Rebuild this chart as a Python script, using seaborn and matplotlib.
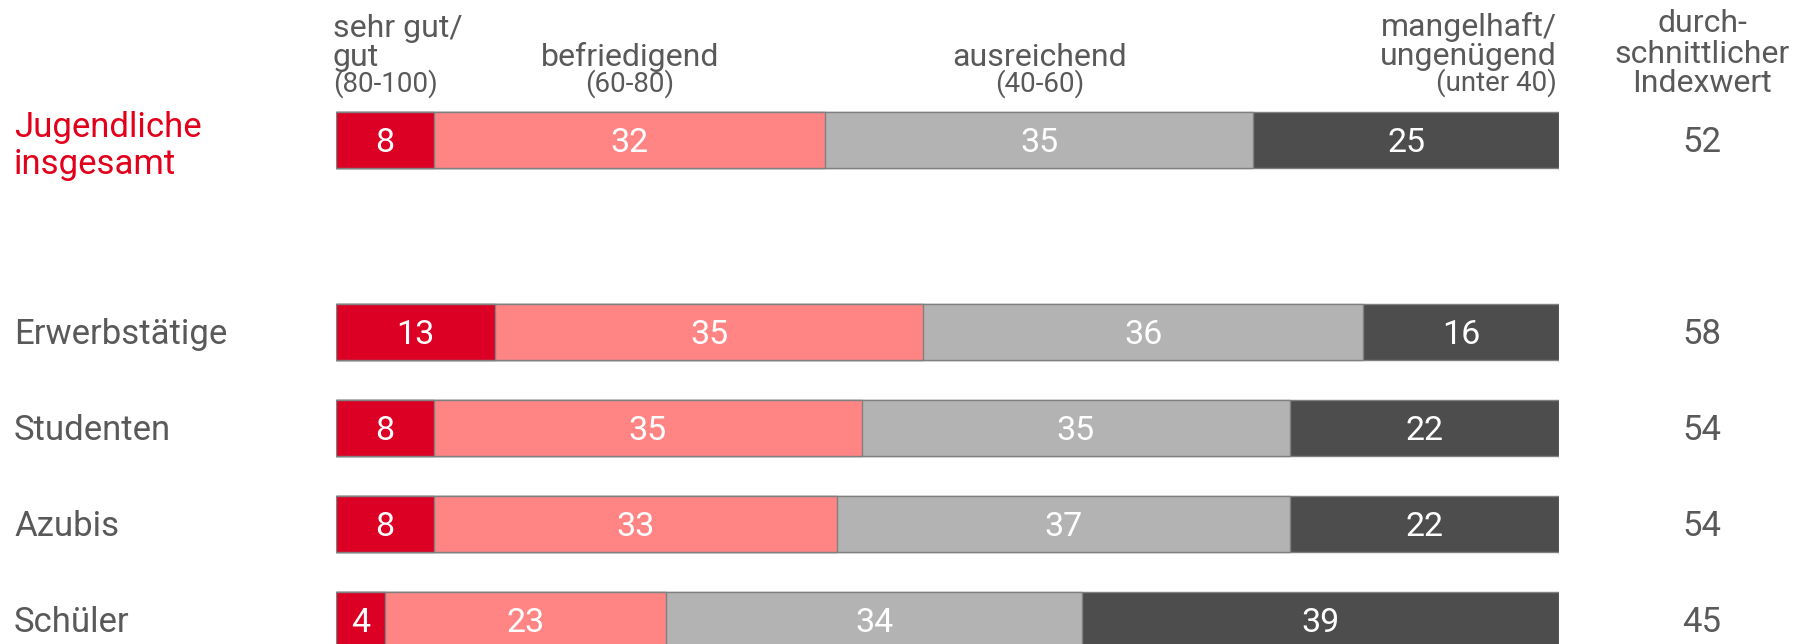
import matplotlib
matplotlib.use("Agg")
import matplotlib.pyplot as plt
import matplotlib.transforms as mtransforms
import seaborn as sns
import pandas as pd

# data (percent per group)
categories = ["Jugendliche insgesamt", "Erwerbstätige", "Studenten", "Azubis", "Schüler"]
row_labels = [["Jugendliche", "insgesamt"], ["Erwerbstätige"], ["Studenten"], ["Azubis"], ["Schüler"]]
sehr_gut = [8, 13, 8, 8, 4]
befriedigend = [32, 35, 35, 33, 23]
ausreichend = [35, 36, 35, 37, 34]
mangelhaft = [25, 16, 22, 22, 39]
indexwert = [52, 58, 54, 54, 45]

# empty slot between total and the subgroups
order = ["Jugendliche insgesamt", " ", "Erwerbstätige", "Studenten", "Azubis", "Schüler"]

colors = ["#DC0024", "#FF8585", "#B3B3B3", "#4D4D4D"]
text_grey = "#595959"
text_red = "#E2001A"

sns.set_style("white")
plt.rcParams["font.family"] = ["Roboto", "DejaVu Sans"]

df = pd.DataFrame({
    "group": categories,
    "s1": sehr_gut,
    "s2": befriedigend,
    "s3": ausreichend,
    "s4": mangelhaft,
})
segs = ["s1", "s2", "s3", "s4"]
cum = df[segs].cumsum(axis=1)

fig = plt.figure(figsize=(18.09, 6.44), dpi=100)
ax = fig.add_axes([336 / 1809, 0, (1559 - 336) / 1809, 552 / 644])

# stacked bars: draw cumulative totals from the widest down
for i in range(3, -1, -1):
    sns.barplot(x=cum[segs[i]], y=df["group"], order=order, orient="h",
                color=colors[i], saturation=1, width=0.58,
                edgecolor="#808080", linewidth=1, ax=ax)

ax.set_xlim(0, 100)
ax.set_ylim(5.25, -0.5)
ax.axis("off")

fs = 25      # row labels / index values
fv = 24.5    # numbers inside bars
off = 0.13   # baseline shift (data units) so caps sit centred on the bar

# values inside segments
for r, g in enumerate(categories):
    ypos = order.index(g)
    left = 0
    for i, s in enumerate(segs):
        v = df.loc[r, s]
        ax.text(left + v / 2, ypos + off, str(v), ha="center", va="baseline",
                color="white", fontsize=fv)
        left += v

# row labels on the left and index values on the right
blend = mtransforms.blended_transform_factory(fig.transFigure, ax.transData)
for r, g in enumerate(categories):
    ypos = order.index(g)
    if r == 0:
        ax.text(14 / 1809, ypos - 0.03, row_labels[r][0], transform=blend,
                ha="left", va="baseline", color=text_red, fontsize=fs)
        ax.text(14 / 1809, ypos + 0.35, row_labels[r][1], transform=blend,
                ha="left", va="baseline", color=text_red, fontsize=fs)
    else:
        ax.text(14 / 1809, ypos + off, row_labels[r][0], transform=blend,
                ha="left", va="baseline", color=text_grey, fontsize=fs)
    ax.text(1702 / 1809, ypos + off, str(indexwert[r]), transform=blend,
            ha="center", va="baseline", color=text_grey, fontsize=fs)

# column headers, one line at a time (tight line spacing)
def fy(px):
    return 1 - px / 644

hs = 23
ss = 20
headers = [
    (333, 37, "sehr gut/", "left", hs),
    (333, 66, "gut", "left", hs),
    (333, 92, "(80-100)", "left", ss),
    (630, 66, "befriedigend", "center", hs),
    (630, 92, "(60-80)", "center", ss),
    (1040, 66, "ausreichend", "center", hs),
    (1040, 92, "(40-60)", "center", ss),
    (1557, 36, "mangelhaft/", "right", hs),
    (1557, 65, "ungenügend", "right", hs),
    (1557, 91, "(unter 40)", "right", ss),
    (1702, 32, "durch-", "center", hs),
    (1702, 63, "schnittlicher", "center", hs),
    (1702, 92, "Indexwert", "center", hs),
]
for x, y, t, ha, size in headers:
    fig.text(x / 1809, fy(y), t, ha=ha, va="baseline", color=text_grey, fontsize=size)

fig.savefig("out.png", dpi=100)
